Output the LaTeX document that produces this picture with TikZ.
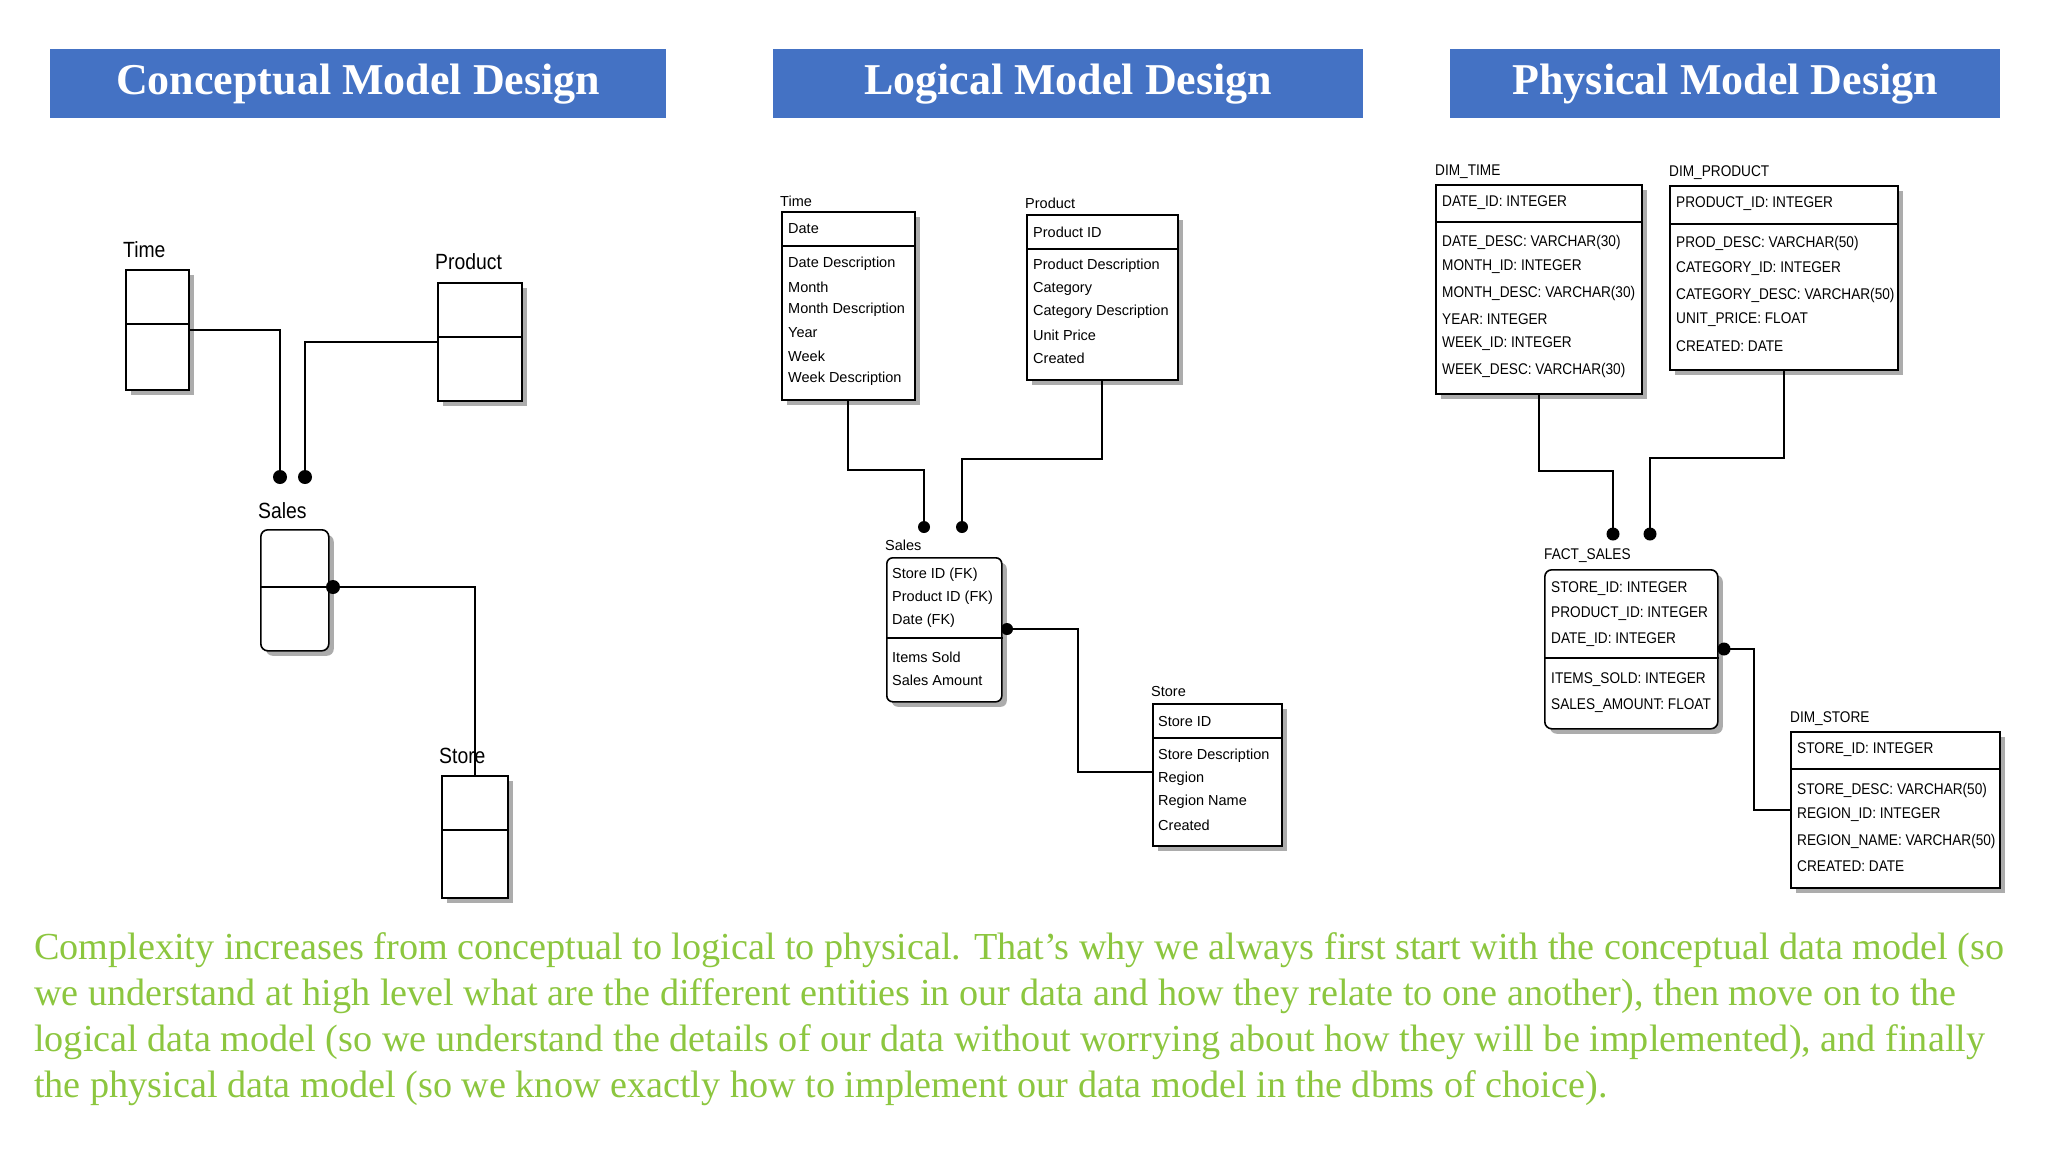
\documentclass[tikz,border=0pt]{standalone}
\usepackage{fontspec}
\setmainfont{Liberation Serif}
\newfontfamily\ersans{Liberation Sans}
\newfontfamily\ersansn[FakeStretch=0.88]{Liberation Sans}
\usetikzlibrary{shadows}
\definecolor{hdr}{HTML}{4472C4}
\definecolor{grn}{HTML}{8CC63F}
\tikzset{
  hbar/.style={fill=hdr,draw=none,text=white,font=\bfseries\fontsize{44}{48}\selectfont,anchor=north west,inner sep=0},
  tbl/.style={draw=black,line width=1.6pt,fill=white,anchor=north west,inner sep=0,
    drop shadow={shadow xshift=5pt,shadow yshift=-5pt,fill=gray!65,opacity=1}},
  lrow/.style={anchor=west,inner sep=0,font=\ersans\fontsize{14.5}{16}\selectfont},
  prow/.style={anchor=west,inner sep=0,font=\ersansn\fontsize{15.5}{17}\selectfont},
  crow/.style={anchor=west,inner sep=0,font=\ersansn\fontsize{22}{24}\selectfont},
  conn/.style={line width=1.8pt},
  para/.style={anchor=west,inner sep=0,text=grn,font=\fontsize{38.2}{42}\selectfont}
}
\begin{document}
\begin{tikzpicture}[x=1pt,y=-1pt]
\useasboundingbox (0,0) rectangle (2048,1152);
% headers
\node[hbar,minimum width=616,minimum height=69] (h1) at (50,49) {Conceptual Model Design};
\node[hbar,minimum width=590,minimum height=69] (h2) at (773,49) {Logical Model Design};
\node[hbar,minimum width=550,minimum height=69] (h3) at (1450,49) {Physical Model Design};

% ---------- Conceptual ----------
\node[tbl,minimum width=63,minimum height=120] (ct) at (125,269) {};
\draw[line width=1.6pt] (ct.west |- 0,324) -- (ct.east |- 0,324);
\node[crow] (ctl) at (123,250) {Time};
\node[tbl,minimum width=84,minimum height=118] (cp) at (437,282) {};
\draw[line width=1.6pt] (cp.west |- 0,337) -- (cp.east |- 0,337);
\node[crow] (cpl) at (435,262) {Product};
\node[tbl,rounded corners=7,minimum width=68,minimum height=121] (cs) at (260,529) {};
\draw[line width=1.6pt] (cs.west |- 0,587) -- (cs.east |- 0,587);
\node[crow] (csl) at (258,511) {Sales};
\node[tbl,minimum width=66,minimum height=122] (cst) at (441,775) {};
\draw[line width=1.6pt] (cst.west |- 0,830) -- (cst.east |- 0,830);
\node[crow] (cstl) at (439,756) {Store};
\coordinate (cd1) at (280,477);
\coordinate (cd2) at (305,477);
\coordinate (cd3) at (333,587);
\draw[conn] (ct.east) -| (cd1);
\draw[conn] (cp.west) -| (cd2);
\draw[conn] (cd3) -| (cst.north);
\foreach \d in {cd1,cd2,cd3} \fill (\d) circle (7);

% ---------- Logical ----------
\node[tbl,minimum width=133,minimum height=188] (lt) at (781,211) {};
\draw[line width=1.5pt] (lt.west |- 0,246) -- (lt.east |- 0,246);
\node[lrow] at (780,201) {Time};
\node[lrow] at (788,229) {Date};
\foreach \t/\y in {Date Description/264,Month/287,Month Description/310,Year/333,Week/356,Week Description/379}
  \node[lrow] at (788,\y) {\t};
\node[tbl,minimum width=151,minimum height=165] (lp) at (1026,214) {};
\draw[line width=1.5pt] (lp.west |- 0,249) -- (lp.east |- 0,249);
\node[lrow] at (1025,203) {Product};
\node[lrow] at (1033,232) {Product ID};
\foreach \t/\y in {Product Description/266,Category/289,Category Description/312,Unit Price/335,Created/358}
  \node[lrow] at (1033,\y) {\t};
\node[tbl,rounded corners=6,minimum width=115,minimum height=144] (ls) at (886,557) {};
\draw[line width=1.5pt] (ls.west |- 0,638) -- (ls.east |- 0,638);
\node[lrow] at (885,545) {Sales};
\foreach \t/\y in {Store ID (FK)/575,Product ID (FK)/598,Date (FK)/621,Items Sold/657,Sales Amount/680}
  \node[lrow] at (892,\y) {\t};
\node[tbl,minimum width=129,minimum height=142] (lst) at (1152,703) {};
\draw[line width=1.5pt] (lst.west |- 0,738) -- (lst.east |- 0,738);
\node[lrow] at (1151,691) {Store};
\node[lrow] at (1158,721) {Store ID};
\foreach \t/\y in {Store Description/756,Region/779,Region Name/802,Created/825}
  \node[lrow] at (1158,\y) {\t};
\coordinate (ld1) at (924,527);
\coordinate (ld2) at (962,527);
\coordinate (ld3) at (1007,629);
\coordinate (le3) at (1152,772);
\draw[conn] (lt.south) -- ++(0,69) -| (ld1);
\draw[conn] (lp.south) -- ++(0,78) -| (ld2);
\draw[conn] (ld3) -- (1078,629) |- (le3);
\foreach \d in {ld1,ld2,ld3} \fill (\d) circle (6);

% ---------- Physical ----------
\node[tbl,minimum width=206,minimum height=209] (pt) at (1435,184) {};
\draw[line width=1.5pt] (pt.west |- 0,222) -- (pt.east |- 0,222);
\node[prow] at (1435,172) {DIM\_TIME};
\node[prow] at (1442,203) {DATE\_ID: INTEGER};
\foreach \t/\y in {DATE\_DESC: VARCHAR(30)/242,MONTH\_ID: INTEGER/267,MONTH\_DESC: VARCHAR(30)/293,YEAR: INTEGER/319,WEEK\_ID: INTEGER/344,WEEK\_DESC: VARCHAR(30)/370}
  \node[prow] at (1442,\y) {\t};
\node[tbl,minimum width=228,minimum height=184] (pp) at (1669,185) {};
\draw[line width=1.5pt] (pp.west |- 0,224) -- (pp.east |- 0,224);
\node[prow] at (1669,173) {DIM\_PRODUCT};
\node[prow] at (1676,204) {PRODUCT\_ID: INTEGER};
\foreach \t/\y in {PROD\_DESC: VARCHAR(50)/243,CATEGORY\_ID: INTEGER/269,CATEGORY\_DESC: VARCHAR(50)/295,UNIT\_PRICE: FLOAT/320,CREATED: DATE/346}
  \node[prow] at (1676,\y) {\t};
\node[tbl,rounded corners=7,minimum width=173,minimum height=159] (ps) at (1544,569) {};
\draw[line width=1.5pt] (ps.west |- 0,658) -- (ps.east |- 0,658);
\node[prow] at (1544,556) {FACT\_SALES};
\foreach \t/\y in {STORE\_ID: INTEGER/589,PRODUCT\_ID: INTEGER/614,DATE\_ID: INTEGER/640,ITEMS\_SOLD: INTEGER/680,SALES\_AMOUNT: FLOAT/706}
  \node[prow] at (1551,\y) {\t};
\node[tbl,minimum width=209,minimum height=156] (pst) at (1790,731) {};
\draw[line width=1.5pt] (pst.west |- 0,769) -- (pst.east |- 0,769);
\node[prow] at (1790,719) {DIM\_STORE};
\node[prow] at (1797,750) {STORE\_ID: INTEGER};
\foreach \t/\y in {STORE\_DESC: VARCHAR(50)/790,REGION\_ID: INTEGER/815,REGION\_NAME: VARCHAR(50)/841,CREATED: DATE/866}
  \node[prow] at (1797,\y) {\t};
\coordinate (pd1) at (1613,534);
\coordinate (pd2) at (1650,534);
\coordinate (pd3) at (1724,649);
\coordinate (pe3) at (1790,810);
\draw[conn] (pt.south) -- ++(0,76) -| (pd1);
\draw[conn] (pp.south) -- ++(0,87) -| (pd2);
\draw[conn] (pd3) -- (1754,649) |- (pe3);
\foreach \d in {pd1,pd2,pd3} \fill (\d) circle (6.5);

% ---------- paragraph ----------
\node[para] (p1) at (34,950) {Complexity increases from conceptual to logical to physical. That’s why we always first start with the conceptual data model (so};
\node[para] (p2) at (34,996) {we understand at high level what are the different entities in our data and how they relate to one another), then move on to the};
\node[para] (p3) at (34,1042) {logical data model (so we understand the details of our data without worrying about how they will be implemented), and finally};
\node[para] (p4) at (34,1088) {the physical data model (so we know exactly how to implement our data model in the dbms of choice).};
\end{tikzpicture}
\end{document}
